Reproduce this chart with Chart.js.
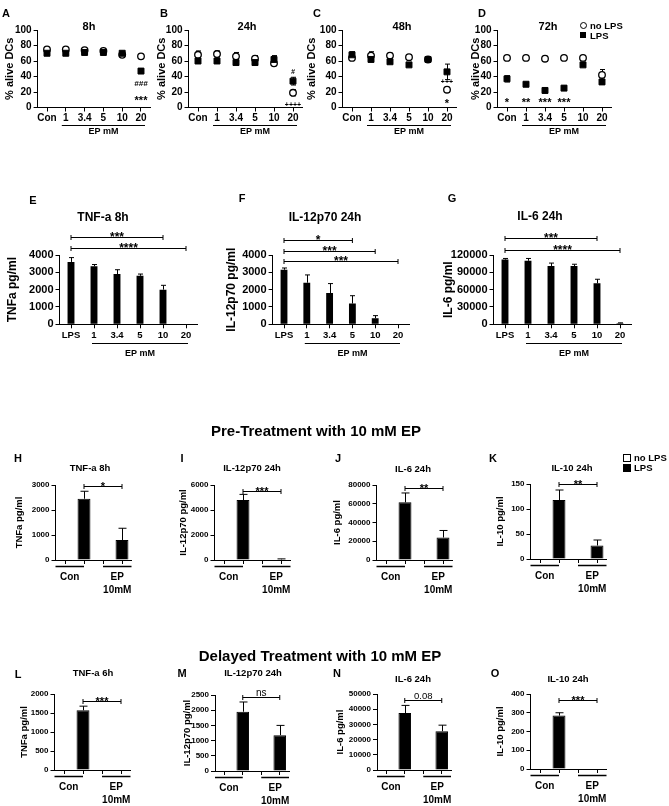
<!DOCTYPE html>
<html lang="en">
<head>
<meta charset="UTF-8" />
<title>EP effects on DC viability and cytokines</title>
<script src="https://cdn.jsdelivr.net/npm/chart.js@4"></script>
<style>
  html, body { margin: 0; padding: 0; background: #fff; }
  #fig { position: relative; width: 669px; height: 806px; overflow: hidden; font-family: Arial, "Liberation Sans", Helvetica, sans-serif; color: #000; }
  #fig canvas { position: absolute; left: 0; top: 0; }
  .t { position: absolute; z-index: 2; font-weight: bold; white-space: nowrap; line-height: 1; transform: translate(-50%, -50%); }
  .t.l { transform: translate(0, -50%); }
  .mk { position: absolute; z-index: 2; box-sizing: border-box; }
</style>
</head>
<body>
<div id="fig"></div>
<script>
// ---- categories
const epLabels = ['Con', '1', '3.4', '5', '10', '20'];
const cytLabels = ['LPS', '1', '3.4', '5', '10', '20'];
const grpLabels = ['', '', '', '']; // no LPS / LPS for Con, then for EP 10mM

// ---- A-D: % alive DCs (no LPS = open circles, LPS = filled squares)
const via8NoLps = [75, 75, 74, 73, 68, 66];
const via8NoLpsErr = [2, 2, 2, 2, 2, 2];
const via8Lps = [70, 70, 71, 71, 70, 47];
const via8LpsErr = [2, 1, 1, 1, 2, 2];

const via24NoLps = [68, 69, 66, 63, 57, 19];
const via24NoLpsErr = [5, 4, 5, 4, 3, 4];
const via24Lps = [60, 60, 58, 58, 62, 34];
const via24LpsErr = [2, 2, 2, 2, 5, 5];

const via48NoLps = [64, 67, 67, 65, 62, 23];
const via48NoLpsErr = [3, 5, 3, 3, 2, 3];
const via48Lps = [68, 62, 59, 55, 62, 46];
const via48LpsErr = [4, 2, 2, 2, 2, 10];

const via72NoLps = [64, 64, 63, 64, 64, 42];
const via72NoLpsErr = [3, 3, 3, 3, 3, 7];
const via72Lps = [37, 30, 22, 25, 55, 33];
const via72LpsErr = [4, 2, 3, 3, 2, 2];

// ---- E-G: dose response cytokines
const tnf8Dose = [3600, 3350, 2900, 2800, 2000, 0];
const tnf8DoseErr = [250, 100, 250, 100, 250, 0];
const il12Dose = [3150, 2400, 1800, 1200, 350, 0];
const il12DoseErr = [100, 450, 550, 450, 150, 0];
const il6Dose = [112000, 110000, 101000, 101000, 71000, 2000];
const il6DoseErr = [2000, 4000, 5000, 3000, 7000, 500];

// ---- H-K: pre-treatment (values for Con, EP 10mM)
const preTnfNoLps = [0, 0],   preTnfLps = [2450, 800],    preTnfLpsErr = [300, 470];
const preIl12NoLps = [0, 0],  preIl12Lps = [4800, 50],    preIl12LpsErr = [450, 40];
const preIl6NoLps = [0, 0],   preIl6Lps = [61500, 24000], preIl6LpsErr = [10000, 7500];
const preIl10NoLps = [0, 0],  preIl10Lps = [118, 27],     preIl10LpsErr = [20, 11];

// ---- L-O: delayed treatment
const delTnfNoLps = [0, 0],   delTnfLps = [1570, 0],      delTnfLpsErr = [110, 0];
const delIl12NoLps = [0, 0],  delIl12Lps = [1950, 1180],  delIl12LpsErr = [320, 320];
const delIl6NoLps = [0, 0],   delIl6Lps = [37500, 25500], delIl6LpsErr = [5000, 4000];
const delIl10NoLps = [0, 0],  delIl10Lps = [285, 0],      delIl10LpsErr = [15, 0];

const FONT = 'Arial, "Liberation Sans", Helvetica, sans-serif';
Chart.defaults.font.family = FONT;
Chart.defaults.color = '#000';
const W = 669, H = 806, HX = 22;
const fig = document.getElementById('fig');

// error bars, significance brackets, notes and group underlines
const extras = {
  id: 'extras',
  beforeDatasetsDraw(chart, args, o) {
    const ctx = chart.ctx, ys = chart.scales.y;
    ctx.save();
    ctx.strokeStyle = '#000';
    ctx.lineWidth = 1;
    chart.data.datasets.forEach((ds, di) => {
      if (!ds.err) return;
      chart.getDatasetMeta(di).data.forEach((el, i) => {
        const v = ds.data[i], e = ds.err[i];
        if (!e) return;
        const top = ys.getPixelForValue(v + e);
        const bot = o.upOnly ? ys.getPixelForValue(v) : ys.getPixelForValue(v - e);
        const x = Math.round(el.x) + 0.5;
        ctx.beginPath();
        ctx.moveTo(x, top); ctx.lineTo(x, bot);
        ctx.moveTo(x - o.cap, top); ctx.lineTo(x + o.cap, top);
        if (!o.upOnly) { ctx.moveTo(x - o.cap, bot); ctx.lineTo(x + o.cap, bot); }
        ctx.stroke();
      });
    });
    ctx.restore();
  },
  afterDatasetsDraw(chart, args, o) {
    const ctx = chart.ctx, xs = chart.scales.x, ys = chart.scales.y, a = chart.chartArea;
    ctx.save();
    ctx.strokeStyle = '#000';
    ctx.fillStyle = '#000';
    ctx.lineWidth = 1;
    ctx.textAlign = 'center';
    (o.brackets || []).forEach(b => {
      const x1 = xs.getPixelForValue(b.from), x2 = xs.getPixelForValue(b.to);
      const y = Math.round(ys.getPixelForValue(b.y)) + 0.5;
      ctx.beginPath();
      ctx.moveTo(x1, y); ctx.lineTo(x2, y);
      ctx.moveTo(x1, y - 2.5); ctx.lineTo(x1, y + 2.5);
      ctx.moveTo(x2, y - 2.5); ctx.lineTo(x2, y + 2.5);
      ctx.stroke();
      ctx.textBaseline = 'alphabetic';
      if (b.plain) {
        ctx.font = b.size + 'px ' + FONT;
        ctx.fillText(b.text, (x1 + x2) / 2, y - 2);
      } else {
        ctx.font = 'bold ' + o.starSize + 'px ' + FONT;
        ctx.fillText(b.text, (x1 + x2) / 2, y + o.starSize * 0.3);
      }
    });
    (o.notes || []).forEach(n => {
      const x = xs.getPixelForValue(n.i), y = ys.getPixelForValue(n.y);
      const star = /^\*+$/.test(n.text);
      const size = n.size || (star ? o.starSize : o.noteSize);
      ctx.font = (n.italic ? 'italic ' : '') + 'bold ' + size + 'px ' + FONT;
      ctx.textBaseline = 'middle';
      ctx.fillText(n.text, x, y + (star ? size * 0.3 : 0));
    });
    if (o.ep) {
      const e = o.ep;
      const x1 = xs.getPixelForValue(e.from) - e.pad, x2 = xs.getPixelForValue(e.to) + e.pad;
      const y = Math.round(a.bottom + e.dy) + 0.5;
      ctx.beginPath(); ctx.moveTo(x1, y); ctx.lineTo(x2, y); ctx.stroke();
      ctx.font = 'bold ' + e.size + 'px ' + FONT;
      ctx.textBaseline = 'middle';
      ctx.fillText('EP mM', (x1 + x2) / 2, a.bottom + e.textDy);
    }
    if (o.groups) {
      const g = o.groups;
      const y = Math.round(a.bottom + g.dy) + 0.5;
      const c1 = a.left, c2 = xs.getPixelForValue(1), e1 = xs.getPixelForValue(2), e2 = a.right;
      ctx.lineWidth = 1.5;
      ctx.beginPath();
      ctx.moveTo(c1, y); ctx.lineTo(c2, y);
      ctx.moveTo(e1, y); ctx.lineTo(e2, y);
      ctx.stroke();
      ctx.font = 'bold ' + g.size + 'px ' + FONT;
      ctx.textBaseline = 'middle';
      ctx.fillText('Con', (c1 + c2) / 2, a.bottom + g.conDy);
      ctx.fillText('EP', (e1 + e2) / 2, a.bottom + g.conDy);
      ctx.fillText('10mM', (e1 + e2) / 2, a.bottom + g.mmDy);
    }
    ctx.restore();
  }
};

function panel(p) {
  const cv = document.createElement('canvas');
  cv.width = W; cv.height = H;
  fig.appendChild(cv);
  const padL = p.ytx - p.ytSize * 0.6;
  const axisGrid = { drawOnChartArea: false, drawTicks: true, tickLength: 4, color: '#000', lineWidth: 1, offset: false };
  new Chart(cv, {
    type: p.type,
    data: { labels: p.labels, datasets: p.datasets },
    options: {
      responsive: false,
      animation: false,
      events: [],
      layout: { padding: { left: padL, top: p.area.t, right: W - p.area.r, bottom: H - p.area.b - HX } },
      plugins: { legend: { display: false }, tooltip: { enabled: false }, extras: p.extras },
      scales: {
        x: {
          offset: true, grid: axisGrid, border: { color: '#000', width: 1 },
          ticks: { autoSkip: false, maxRotation: 0, padding: 1, font: { size: p.xSize || 10, weight: 'bold' } },
          afterFit: s => { s.height = HX; }
        },
        y: {
          min: 0, max: p.max, grid: axisGrid, border: { color: '#000', width: 1 },
          ticks: { stepSize: p.step, padding: 2, font: { size: p.ySize, weight: 'bold' }, callback: v => String(v) },
          title: { display: true, text: p.ytitle, padding: 0, font: { size: p.ytSize, weight: 'bold' } },
          afterFit: s => { s.width = p.area.l - padL; }
        }
      }
    },
    plugins: [extras]
  });
}

function viability(lps, lpsErr, noLps, noLpsErr) {
  return [
    { data: lps, err: lpsErr, showLine: false, pointStyle: 'rect', pointRadius: 4.2,
      pointBackgroundColor: '#000', pointBorderColor: '#000', pointBorderWidth: 1 },
    { data: noLps, err: noLpsErr, showLine: false, pointStyle: 'circle', pointRadius: 3.3,
      pointBackgroundColor: '#fff', pointBorderColor: '#000', pointBorderWidth: 1.3 }
  ];
}
function doseBars(vals, errs) {
  return [{ data: vals, err: errs, backgroundColor: '#000', barPercentage: 0.6, categoryPercentage: 0.5 }];
}
function groupBars(noLps, lps, lpsErr) {
  return [{
    data: [noLps[0], lps[0], noLps[1], lps[1]],
    err: [0, lpsErr[0], 0, lpsErr[1]],
    backgroundColor: ['#fff', '#000', '#fff', '#000'],
    borderColor: '#000', borderWidth: 1,
    barPercentage: 0.85, categoryPercentage: 0.8
  }];
}

const epLine = { from: 1, to: 5, pad: 4, dy: 17.5, textDy: 24.5, size: 9 };
const epLine2 = { from: 1, to: 5, pad: 2, dy: 19, textDy: 29, size: 9 };
const grp = { dy: 5.5, conDy: 17.5, mmDy: 30, size: 10 };

// A-D
const vBase = { type: 'line', labels: epLabels, max: 100, step: 20, ytitle: '% alive DCs', ySize: 10, xSize: 10, ytSize: 11 };
panel({ ...vBase, area: { l: 37.6, r: 150.4, t: 30, b: 107.5 }, ytx: 10,
  datasets: viability(via8Lps, via8LpsErr, via8NoLps, via8NoLpsErr),
  extras: { cap: 2.5, noteSize: 8, starSize: 11, ep: epLine,
    notes: [{ i: 5, y: 30, text: '###', italic: true }, { i: 5, y: 13, text: '***' }] } });
panel({ ...vBase, area: { l: 188.5, r: 302.5, t: 30, b: 107.5 }, ytx: 162,
  datasets: viability(via24Lps, via24LpsErr, via24NoLps, via24NoLpsErr),
  extras: { cap: 2.5, noteSize: 7, starSize: 11, ep: epLine,
    notes: [{ i: 5, y: 46, text: '#', italic: true }, { i: 5, y: 3, text: '++++' }] } });
panel({ ...vBase, area: { l: 342.5, r: 456.5, t: 30, b: 107.5 }, ytx: 312,
  datasets: viability(via48Lps, via48LpsErr, via48NoLps, via48NoLpsErr),
  extras: { cap: 2.5, noteSize: 7, starSize: 11, ep: epLine,
    notes: [{ i: 5, y: 33, text: '+++' }, { i: 5, y: 9, text: '*' }] } });
panel({ ...vBase, area: { l: 497.5, r: 611.5, t: 30, b: 107.5 }, ytx: 476,
  datasets: viability(via72Lps, via72LpsErr, via72NoLps, via72NoLpsErr),
  extras: { cap: 2.5, noteSize: 8, starSize: 11, ep: epLine,
    notes: [{ i: 0, y: 10, text: '*' }, { i: 1, y: 10, text: '**' }, { i: 2, y: 10, text: '***' }, { i: 3, y: 10, text: '***' }] } });

// E-G
const dBase = { type: 'bar', labels: cytLabels, ySize: 11, xSize: 9.5, ytSize: 12 };
panel({ ...dBase, area: { l: 59.5, r: 197.5, t: 255, b: 324.3 }, ytx: 13, max: 4000, step: 1000, ytitle: 'TNFa pg/ml',
  datasets: doseBars(tnf8Dose, tnf8DoseErr),
  extras: { cap: 2.5, upOnly: true, starSize: 12, ep: epLine2,
    brackets: [{ from: 0, to: 4, y: 5020, text: '***' }, { from: 0, to: 5, y: 4385, text: '****' }] } });
panel({ ...dBase, area: { l: 272.6, r: 409.4, t: 255, b: 324.3 }, ytx: 232, max: 4000, step: 1000, ytitle: 'IL-12p70 pg/ml',
  datasets: doseBars(il12Dose, il12DoseErr),
  extras: { cap: 2.5, upOnly: true, starSize: 12, ep: epLine2,
    brackets: [{ from: 0, to: 3, y: 4850, text: '*' }, { from: 0, to: 4, y: 4210, text: '***' }, { from: 0, to: 5, y: 3635, text: '***' }] } });
panel({ ...dBase, area: { l: 493.5, r: 631.5, t: 255, b: 324.3 }, ytx: 449, max: 120000, step: 30000, ytitle: 'IL-6 pg/ml',
  datasets: doseBars(il6Dose, il6DoseErr),
  extras: { cap: 2.5, upOnly: true, starSize: 12, ep: epLine2,
    brackets: [{ from: 0, to: 4, y: 149500, text: '***' }, { from: 0, to: 5, y: 128700, text: '****' }] } });

// H-K
const gBase = { type: 'bar', labels: grpLabels, ySize: 8, ytSize: 9.5 };
const gEx = { cap: 4, upOnly: true, starSize: 11, groups: grp };
panel({ ...gBase, area: { l: 55.5, r: 131.5, t: 485, b: 560 }, ytx: 19, max: 3000, step: 1000, ytitle: 'TNFa pg/ml',
  datasets: groupBars(preTnfNoLps, preTnfLps, preTnfLpsErr),
  extras: { ...gEx, brackets: [{ from: 1, to: 3, y: 2960, text: '*' }] } });
panel({ ...gBase, area: { l: 214.5, r: 290.5, t: 485, b: 560 }, ytx: 183, max: 6000, step: 2000, ytitle: 'IL-12p70 pg/ml',
  datasets: groupBars(preIl12NoLps, preIl12Lps, preIl12LpsErr),
  extras: { ...gEx, brackets: [{ from: 1, to: 3, y: 5520, text: '***' }] } });
panel({ ...gBase, area: { l: 376.5, r: 452.5, t: 485, b: 560 }, ytx: 337, max: 80000, step: 20000, ytitle: 'IL-6 pg/ml',
  datasets: groupBars(preIl6NoLps, preIl6Lps, preIl6LpsErr),
  extras: { ...gEx, brackets: [{ from: 1, to: 3, y: 76800, text: '**' }] } });
panel({ ...gBase, area: { l: 530.5, r: 606.5, t: 484, b: 559 }, ytx: 500, max: 150, step: 50, ytitle: 'IL-10 pg/ml',
  datasets: groupBars(preIl10NoLps, preIl10Lps, preIl10LpsErr),
  extras: { ...gEx, brackets: [{ from: 1, to: 3, y: 150, text: '**' }] } });

// L-O
panel({ ...gBase, area: { l: 54.5, r: 130.5, t: 694, b: 770 }, ytx: 24, max: 2000, step: 500, ytitle: 'TNFa pg/ml',
  datasets: groupBars(delTnfNoLps, delTnfLps, delTnfLpsErr),
  extras: { ...gEx, brackets: [{ from: 1, to: 3, y: 1820, text: '***' }] } });
panel({ ...gBase, area: { l: 215, r: 289, t: 695, b: 771 }, ytx: 187, max: 2500, step: 500, ytitle: 'IL-12p70 pg/ml',
  datasets: groupBars(delIl12NoLps, delIl12Lps, delIl12LpsErr),
  extras: { ...gEx, brackets: [{ from: 1, to: 3, y: 2435, text: 'ns', plain: true, size: 10 }] } });
panel({ ...gBase, area: { l: 377, r: 451, t: 694, b: 770 }, ytx: 340, max: 50000, step: 10000, ytitle: 'IL-6 pg/ml',
  datasets: groupBars(delIl6NoLps, delIl6Lps, delIl6LpsErr),
  extras: { ...gEx, brackets: [{ from: 1, to: 3, y: 46100, text: '0.08', plain: true, size: 9.5 }] } });
panel({ ...gBase, area: { l: 530.5, r: 606.5, t: 694, b: 769 }, ytx: 500, max: 400, step: 100, ytitle: 'IL-10 pg/ml',
  datasets: groupBars(delIl10NoLps, delIl10Lps, delIl10LpsErr),
  extras: { ...gEx, brackets: [{ from: 1, to: 3, y: 368, text: '***' }] } });

// ---- text: panel letters, titles, headings, legends
function text(s, x, y, size, left) {
  const d = document.createElement('div');
  d.className = 't' + (left ? ' l' : '');
  d.textContent = s;
  d.style.left = x + 'px';
  d.style.top = y + 'px';
  d.style.fontSize = size + 'px';
  fig.appendChild(d);
}
function mark(x, y, w, h, css) {
  const d = document.createElement('div');
  d.className = 'mk';
  Object.assign(d.style, { left: x + 'px', top: y + 'px', width: w + 'px', height: h + 'px' }, css);
  fig.appendChild(d);
}

[['A', 6, 13], ['B', 164, 13], ['C', 317, 13], ['D', 482, 13],
 ['E', 33, 200], ['F', 242, 198], ['G', 452, 198],
 ['H', 18, 458], ['I', 182, 458], ['J', 338, 458], ['K', 493, 458],
 ['L', 18, 674], ['M', 182, 673], ['N', 337, 673], ['O', 495, 673]]
  .forEach(([s, x, y]) => text(s, x, y, 11));

[['8h', 89, 26], ['24h', 247, 26], ['48h', 402, 26], ['72h', 548, 26]].forEach(([s, x, y]) => text(s, x, y, 11));
[['TNF-a 8h', 103, 217], ['IL-12p70 24h', 325, 217], ['IL-6 24h', 540, 216]].forEach(([s, x, y]) => text(s, x, y, 12));
[['TNF-a 8h', 90, 468], ['IL-12p70 24h', 252, 468], ['IL-6 24h', 413, 469], ['IL-10 24h', 572, 468],
 ['TNF-a 6h', 93, 673], ['IL-12p70 24h', 253, 673], ['IL-6 24h', 413, 679], ['IL-10 24h', 568, 679]]
  .forEach(([s, x, y]) => text(s, x, y, 9.5));

text('Pre-Treatment with 10 mM EP', 316, 430, 15);
text('Delayed Treatment with 10 mM EP', 320, 655, 15);

// legend for A-D
mark(580, 22, 7, 7, { border: '1.3px solid #000', borderRadius: '50%', background: '#fff' });
text('no LPS', 590, 25.5, 9.5, true);
mark(580, 32, 6, 6, { background: '#000' });
text('LPS', 590, 35.5, 9.5, true);
// legend for H-K
mark(623, 454, 8, 8, { border: '1px solid #000', background: '#fff' });
text('no LPS', 634, 458, 9.5, true);
mark(623, 464, 8, 8, { background: '#000' });
text('LPS', 634, 468, 9.5, true);
</script>
</body>
</html>
